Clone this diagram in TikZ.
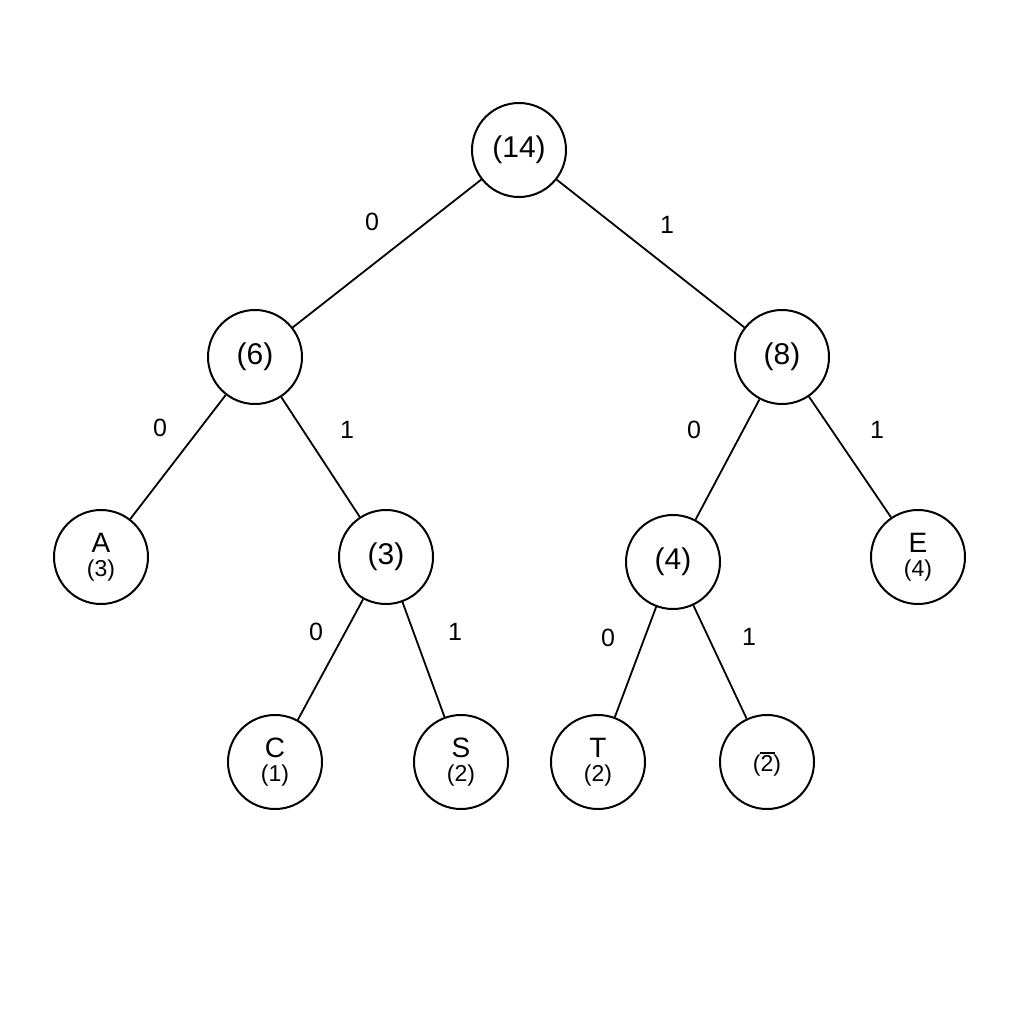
\documentclass[tikz,border=0pt]{standalone}
\usepackage{fontspec}
\setmainfont{Liberation Sans}
\begin{document}
\begin{tikzpicture}[x=1pt,y=-1pt,
  n/.style={circle,draw,line width=2pt,minimum size=94pt,inner sep=0pt,font=\fontsize{30}{32}\selectfont,align=center},
  lf/.style={n,font=\fontsize{28}{26}\selectfont},
  e/.style={line width=1.8pt},
  lb/.style={font=\fontsize{25}{26}\selectfont}]
\useasboundingbox (0,0) rectangle (1024,1024);
\node[n] (r) at (519,150) {(14)};
\node[n] (a) at (255,357) {(6)};
\node[n] (b) at (782,357) {(8)};
\node[lf] (A) at (101,557) {A\\[-2pt]{\fontsize{23}{23}\selectfont(3)}};
\node[n] (c) at (386,557) {(3)};
\node[n] (d) at (673,562) {(4)};
\node[lf] (E) at (918,557) {E\\[-2pt]{\fontsize{23}{23}\selectfont(4)}};
\node[lf] (C) at (275,762) {C\\[-2pt]{\fontsize{23}{23}\selectfont(1)}};
\node[lf] (S) at (461,762) {S\\[-2pt]{\fontsize{23}{23}\selectfont(2)}};
\node[lf] (T) at (598,762) {T\\[-2pt]{\fontsize{23}{23}\selectfont(2)}};
\node[lf] (U) at (767,762) {\rule[-6pt]{15pt}{2pt}\\[-2pt]{\fontsize{23}{23}\selectfont(2)}};
\draw[e] (r)--(a); \draw[e] (r)--(b);
\draw[e] (a)--(A); \draw[e] (a)--(c);
\draw[e] (b)--(d); \draw[e] (b)--(E);
\draw[e] (c)--(C); \draw[e] (c)--(S);
\draw[e] (d)--(T); \draw[e] (d)--(U);
\node[lb] (l1) at (372,222) {0};
\node[lb] (l2) at (667,225) {1};
\node[lb] (l3) at (160,428) {0};
\node[lb] (l4) at (347,430) {1};
\node[lb] (l5) at (694,430) {0};
\node[lb] (l6) at (877,430) {1};
\node[lb] (l7) at (316,632) {0};
\node[lb] (l8) at (455,632) {1};
\node[lb] (l9) at (608,638) {0};
\node[lb] (l10) at (749,637) {1};
\end{tikzpicture}
\end{document}
